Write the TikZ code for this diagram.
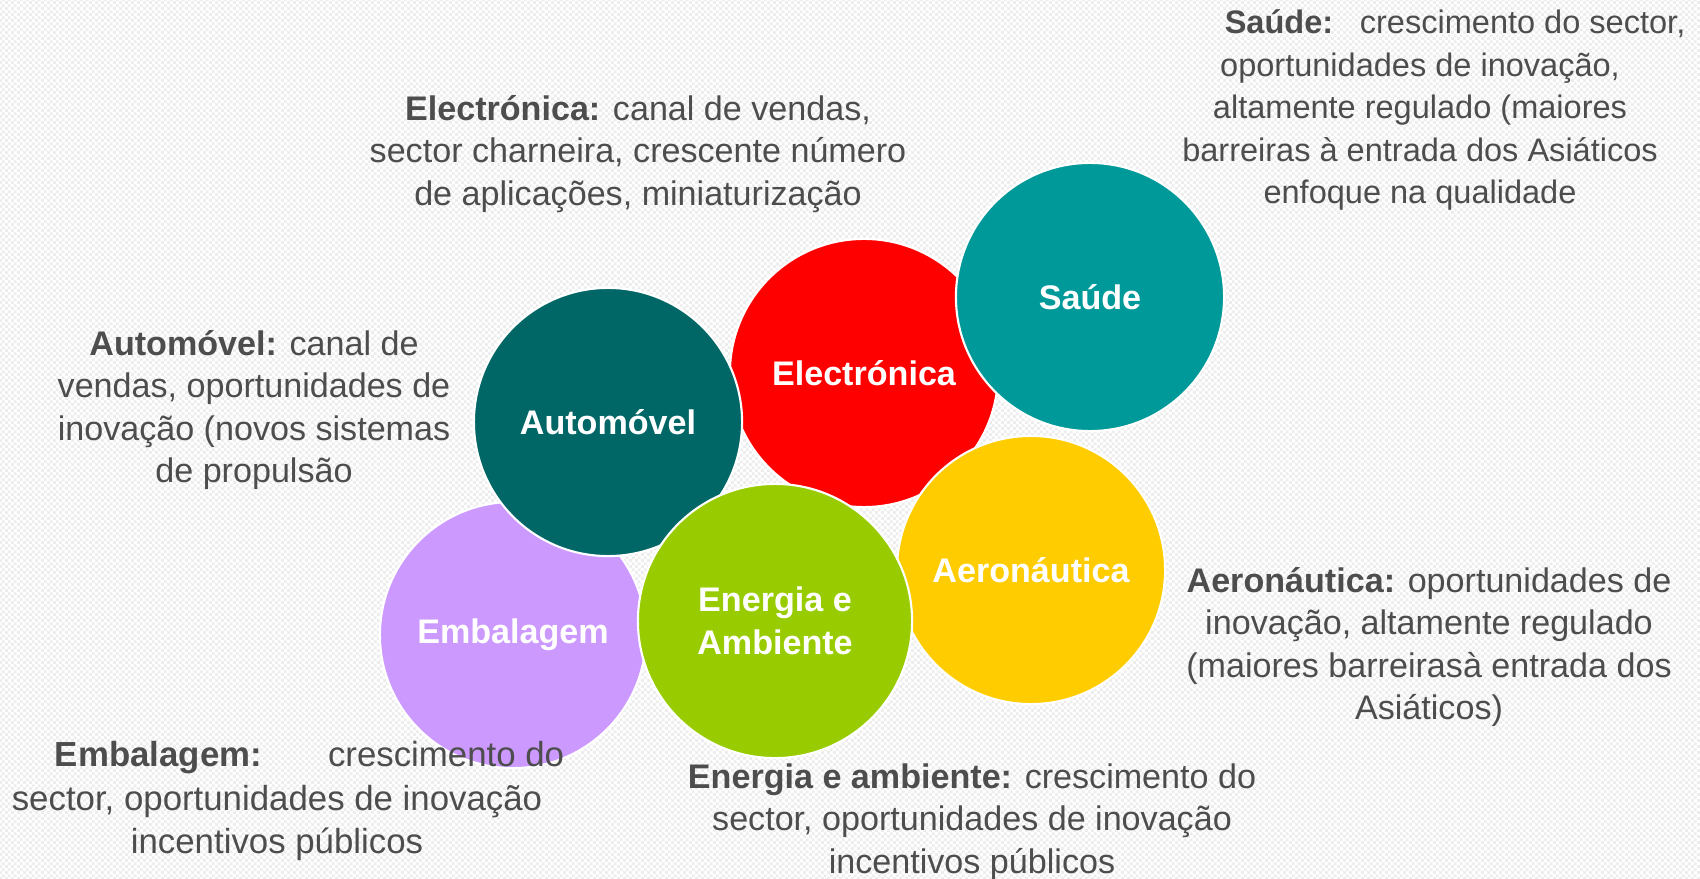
\documentclass[tikz,border=0pt]{standalone}
\usepackage{fontspec}
\setmainfont{Liberation Sans}
\usetikzlibrary{patterns}
\definecolor{txtgray}{RGB}{77,77,77}
\definecolor{autoteal}{RGB}{0,102,102}
\definecolor{elecred}{RGB}{255,0,0}
\definecolor{saudeteal}{RGB}{0,153,153}
\definecolor{aeroyellow}{RGB}{255,204,0}
\definecolor{energgreen}{RGB}{153,204,0}
\definecolor{embalviolet}{RGB}{204,153,255}
\pgfdeclarepatternformonly{finecheck}{\pgfpointorigin}{\pgfqpoint{1.8pt}{1.8pt}}{\pgfqpoint{1.8pt}{1.8pt}}{%
  \pgfpathrectangle{\pgfpointorigin}{\pgfqpoint{0.9pt}{0.9pt}}%
  \pgfpathrectangle{\pgfqpoint{0.9pt}{0.9pt}}{\pgfqpoint{0.9pt}{0.9pt}}%
  \pgfusepath{fill}}

\begin{document}
\begin{tikzpicture}[x=0.01cm,y=-0.01cm,
    bubble/.style={circle,inner sep=0pt,draw=white,line width=0.6pt,
      text=white,align=center,font=\fontsize{9.7}{12.1}\selectfont\bfseries},
    desc/.style={text=txtgray,align=center,inner sep=0pt,font=\fontsize{9.7}{12.1}\selectfont}]
    \useasboundingbox (0,0) rectangle (1700,879);
    \fill[white] (0,0) rectangle (1700,879);
    \fill[pattern=finecheck,pattern color=black!7] (0,0) rectangle (1700,879);
    \foreach \n/\x/\y/\s/\c/\t in {elec/864/373/2.68/elecred/Electrónica, saude/1090/297/2.68/saudeteal/Saúde,
        aero/1031/570/2.68/aeroyellow/Aeronáutica, embal/513/635/2.66/embalviolet/Embalagem,
        auto/608/422/2.68/autoteal/Automóvel, energ/775/621/2.74/energgreen/{Energia e\\Ambiente}} {
        \node[bubble,fill=\c,minimum size=\s cm] (\n) at (\x,\y) {\t};
    }
    \node[desc,font=\fontsize{9.25}{12.1}\selectfont] (saudetxt) at (1420,110) {\hspace*{0.7cm}\textbf{Saúde:}\hspace{0.45em} crescimento do sector,\\oportunidades de inovação,\\altamente regulado (maiores\\barreiras à entrada dos Asiáticos\\enfoque na qualidade};
    \node[desc] (electxt) at (638,154) {\textbf{Electrónica:} canal de vendas,\\sector charneira, crescente número\\de aplicações, miniaturização};
    \node[desc] (autotxt) at (254,410) {\textbf{Automóvel:} canal de\\vendas, oportunidades de\\inovação (novos sistemas\\de propulsão};
    \node[desc] (aerotxt) at (1429,647) {\textbf{Aeronáutica:} oportunidades de\\inovação, altamente regulado\\(maiores barreirasà entrada dos\\Asiáticos)};
    \node[desc] (energtxt) at (972,822) {\textbf{Energia e ambiente:} crescimento do\\sector, oportunidades de inovação\\incentivos públicos};
    \node[desc,font=\fontsize{9.9}{12.3}\selectfont] (embaltxt) at (277,801) {\hspace*{0.65cm}\textbf{Embalagem:}\hspace{1.9em}crescimento do\\sector, oportunidades de inovação\\incentivos públicos};
\end{tikzpicture}
\end{document}
